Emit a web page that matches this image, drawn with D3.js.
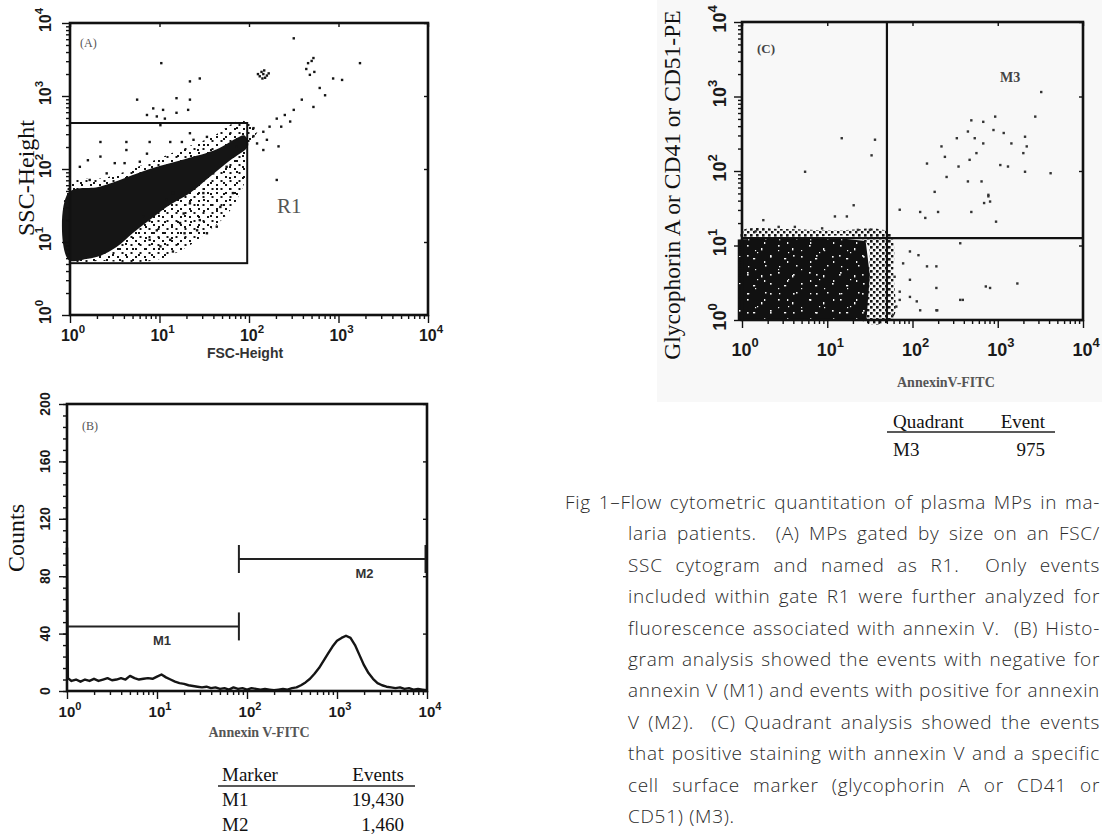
<!DOCTYPE html>
<html><head><meta charset="utf-8">
<script src="https://cdn.jsdelivr.net/npm/d3@7"></script>
<style>body{margin:0;background:#fff}svg{display:block}</style>
</head><body>
<svg id="c" width="1102" height="834"></svg>
<script>
// ---------------- DATA ----------------
const decades = [0, 1, 2, 3, 4];                 // log10 tick exponents
const countTicks = [0, 40, 80, 120, 160, 200];   // panel B y ticks

// Panel A: gate R1 (log10 FSC, log10 SSC)
const gateR1 = {x0: 0, x1: 1.98, y0: 0.71, y1: 2.63};
// dense core outline (log10 FSC, log10 SSC)
const coreA = [[-0.02,0.76],[-0.02,1.67],[0.34,1.76],[0.89,2.0],[1.27,2.13],[1.64,2.27],[1.86,2.42],[1.95,2.46],[1.99,2.32],[1.79,2.12],[1.56,1.89],[1.34,1.67],[1.08,1.48],[0.89,1.3],[0.7,1.12],[0.52,0.93],[0.34,0.81],[0.2,0.77]];
// speckled halo outline
const haloA = [[0.3,0.74],[0.9,0.74],[1.2,0.86],[1.5,1.1],[1.8,1.45],[1.97,1.9],[1.98,2.3],[2.1,2.55],[1.9,2.66],[1.6,2.45],[1.2,2.25],[0.8,2.05],[0.4,1.88],[0,1.8],[0,0.74]];
// sparse events (log10 FSC, log10 SSC)
const sparseA = [[1.02,3.45],[2.50,3.79],[3.24,3.45],[1.34,3.20],[1.45,3.24],[0.75,2.95],[0.93,2.83],[1.04,2.81],[1.19,2.97],[1.34,2.95],[1.32,2.81],[1.19,2.77],[0.97,2.72],[1.06,2.69],[1.01,2.60],[0.86,2.74],
[2.05,2.56],[2.16,2.51],[2.23,2.58],[2.31,2.69],[2.40,2.74],[2.50,2.81],[2.59,2.95],[2.72,2.85],[2.79,3.11],[2.85,3.01],[2.94,3.24],[3.04,3.22],[2.46,2.65],[2.36,2.58],[2.33,2.31],[2.16,2.26],[2.20,2.40],[2.09,2.35],[2.05,2.45],[2.31,1.85],
[2.12,3.27],[2.16,3.30],[2.20,3.28],[2.14,3.33],[2.18,3.25],[2.22,3.31],[2.15,3.24],[2.10,3.30],[2.17,3.35],
[2.72,3.52],[2.66,3.45],[2.64,3.37],[2.68,3.29],[2.73,3.33],[2.70,3.48],
[0.11,2.03],[0.20,2.12],[0.34,2.17],[0.34,2.37],[0.63,2.37],[0.89,2.37],[1.12,2.37],[1.25,2.37],[0.63,2.26],[0.61,2.08],[0.78,2.10],[1.34,2.49],[1.38,2.40],[1.53,2.44],[0.86,2.21],[0.22,1.85],[0.41,1.94],[0.50,2.08],
[1.27,1.39],[1.45,1.30],[1.64,1.21],[1.53,1.12],[1.12,1.03],[1.15,0.87],[0.97,1.16],[0.82,1.35],[1.34,1.53],[1.08,1.58],[1.49,1.67],[1.82,1.67],[1.68,1.48],[1.42,1.16],[1.28,1.12],[1.01,0.94],[0.89,1.03],[1.23,1.26],[1.60,1.94],[1.75,2.03],[1.82,2.17],[1.86,2.31],[1.15,1.67]];

// Panel B: histogram (log10 Annexin V-FITC, counts)
const histLog = [0,0.01,0.05,0.10,0.15,0.20,0.25,0.30,0.35,0.40,0.45,0.50,0.55,0.60,0.65,0.70,0.75,0.80,0.85,0.90,0.95,1.00,1.05,1.10,1.15,1.20,1.25,1.30,1.35,1.40,1.45,1.50,1.55,1.60,1.65,1.70,1.75,1.80,1.85,1.90,1.95,2.00,2.05,2.10,2.15,2.20,2.25,2.30,2.35,2.40,2.45,2.50,2.55,2.60,2.65,2.70,2.75,2.80,2.85,2.90,2.95,3.00,3.05,3.10,3.15,3.20,3.25,3.30,3.35,3.40,3.45,3.50,3.55,3.60,3.65,3.70,3.75,3.80,3.85,3.90,3.95,4.00];
const histCount = [100,9,7,8,6.5,8,7,8.5,7,8,9,7.5,8,9,8,10.5,9,8,8.5,9,8.5,10,11.5,9.5,8,6.5,5.5,5,4,3.5,3,2.5,3,2,2.5,1.5,2,1,2.5,1.5,2,1,2,1.5,1,1.5,1,0.5,1,1.5,1,2,2.5,4,6,8.5,12,16,21,26,31,35,37,38.5,37,32,25,18,12.5,8.5,5.5,4,3,2.5,2,2.5,1.5,2,1,1.5,1,0.5];
// markers: [name, log10 start, log10 end, count level]
const markers = [["M1", 0, 1.91, 45], ["M2", 1.91, 4, 92]];
const tableB = [["Marker", "Events"], ["M1", "19,430"], ["M2", "1,460"]];

// Panel C: quadrant thresholds (log10)
const quadC = {x: 1.70, y: 1.10};
const coreC = [[-0.05,0],[-0.05,1.08],[0.6,1.11],[1.2,1.09],[1.45,1.06],[1.5,0.6],[1.46,0]];
const haloC = [[0,1.05],[0,1.2],[0.5,1.22],[1.1,1.2],[1.6,1.22],[1.75,1.15],[1.78,0.6],[1.76,0],[1.4,0],[1.45,1.05]];
const sparseC = [[2.69,2.68],[2.83,2.66],[2.97,2.73],[2.65,2.53],[2.52,2.44],[2.73,2.44],[2.83,2.37],[2.95,2.55],[2.34,2.33],[2.38,2.19],[2.17,2.10],[2.54,2.06],[2.67,2.15],[2.75,2.24],[2.65,1.86],[2.81,1.86],[2.40,1.92],[2.26,1.72],[2.89,1.68],[2.91,1.59],[2.09,1.45],[2.30,1.45],[2.69,1.45],[1.85,1.48],[2.15,1.37],
[3.51,3.06],[3.44,2.73],[3.32,2.46],[3.34,2.33],[3.30,2.24],[3.32,1.99],[3.62,1.97],[3.12,2.06],[3.03,2.08],[3.16,2.37],[3.07,2.51],[2.98,1.32],[2.84,1.57],[2.89,1.66],
[1.56,2.42],[1.52,2.21],[1.17,2.44],[1.31,1.54],[1.09,1.39],[1.23,1.39],[1.36,1.21],[1.50,1.21],[0.74,1.99],[0.25,1.34],[0.43,1.25],[0.62,1.25],[0.94,1.23],[0.16,1.19],
[1.97,0.92],[2.07,0.87],[1.89,0.76],[2.17,0.72],[2.28,0.72],[1.85,0.38],[1.97,0.31],[2.05,0.25],[2.09,0.13],[2.28,0.13],[1.81,0.18],[1.77,0.07],[1.85,0.27],[2.59,0.27],[2.91,0.43],[2.28,0.43],[1.97,0.54],[1.79,0.58],[2.56,1.03],[2.86,0.45],[3.23,0.49],[2.56,0.27],[2.29,0.13]];
const tableC = [["Quadrant", "Event"], ["M3", "975"]];

const caption = [
 "Fig 1\u2013Flow cytometric quantitation of plasma MPs in ma-",
 "laria patients.  (A) MPs gated by size on an FSC/",
 "SSC cytogram and named as R1.  Only events",
 "included within gate R1 were further analyzed for",
 "fluorescence associated with annexin V.  (B) Histo-",
 "gram analysis showed the events with negative for",
 "annexin V (M1) and events with positive for annexin",
 "V (M2).  (C) Quadrant analysis showed the events",
 "that positive staining with annexin V and a specific",
 "cell surface marker (glycophorin A or CD41 or",
 "CD51) (M3)."];

// ---------------- DRAW ----------------
const svg = d3.select("#c");
const defs = svg.append("defs");
function pat(id, w, h, bg, fg, rects) {
  const p = defs.append("pattern").attr("id", id).attr("width", w).attr("height", h).attr("patternUnits", "userSpaceOnUse");
  if (bg) p.append("rect").attr("width", w).attr("height", h).attr("fill", bg);
  rects.forEach(r => p.append("rect").attr("x", r[0]).attr("y", r[1]).attr("width", r[2]).attr("height", r[3] || r[2]).attr("fill", fg));
}
pat("spk1", 9, 8, null, "#151515", [[0,0,2],[4.5,4,2]]);
pat("spk2", 13, 11, null, "#151515", [[2,6,2],[8,1,2]]);
// irregular white specks inside the dense C cloud
pat("dns", 31, 27, "#111", "#fff", [[3,2,1.6],[17,5,1.4,2.4],[26,13,1.6],[9,15,2.2,1.4],[21,22,1.5],[4,23,1.3],[13,9,1.2]]);
pat("dns2", 23, 19, null, "#f4f4f4", [[11,8,1.6],[5,14,1.3,2],[19,3,1.2]]);
pat("spkC", 6, 6, null, "#151515", [[0,0,2.6],[3,3,2.4]]);

svg.append("rect").attr("x", 657).attr("y", 0).attr("width", 445).attr("height", 402).attr("fill", "#f8f8f8");

const minorVals = [];
[0,1,2,3].forEach(d => { for (let k = 2; k <= 9; k++) minorVals.push(k * Math.pow(10, d)); });
const majorVals = decades.map(e => Math.pow(10, e));
const P = e => Math.pow(10, e);

function clean(g) { g.select(".domain").remove(); g.selectAll(".tick line").attr("stroke", "#111").attr("stroke-width", 1.4); }

function logXAxis(g, x, y0, y1, fs, lblY) {
  g.append("g").attr("transform", `translate(0,${y0})`).call(d3.axisBottom(x).tickValues(minorVals).tickSize(4).tickFormat("")).call(clean);
  g.append("g").attr("transform", `translate(0,${y0})`).call(d3.axisBottom(x).tickValues(majorVals).tickSize(8).tickFormat("")).call(clean);
  g.append("g").attr("transform", `translate(0,${y1})`).call(d3.axisBottom(x).tickValues(majorVals).tickSize(4).tickFormat("")).call(clean);
  decades.forEach(e => {
    const t = g.append("text").attr("x", x(P(e)) + 3).attr("y", lblY).attr("text-anchor", "middle")
      .attr("font-family", "Liberation Sans, Arial, sans-serif").attr("font-weight", "bold").attr("font-size", fs).attr("fill", "#1a1a1a");
    t.append("tspan").text("10");
    t.append("tspan").attr("dy", -fs * 0.5).attr("font-size", fs * 0.72).text(e);
  });
}
function logYAxis(g, y, x0, x1, fs, lblX) {
  g.append("g").attr("transform", `translate(${x0},0)`).call(d3.axisLeft(y).tickValues(minorVals).tickSize(4).tickFormat("")).call(clean);
  g.append("g").attr("transform", `translate(${x0},0)`).call(d3.axisLeft(y).tickValues(majorVals).tickSize(8).tickFormat("")).call(clean);
  g.append("g").attr("transform", `translate(${x1},0)`).call(d3.axisLeft(y).tickValues(majorVals).tickSize(4).tickFormat("")).call(clean);
  decades.forEach(e => {
    const t = g.append("text").attr("transform", `translate(${lblX},${y(P(e)) - 3}) rotate(-90)`).attr("text-anchor", "middle")
      .attr("font-family", "Liberation Sans, Arial, sans-serif").attr("font-weight", "bold").attr("font-size", fs).attr("fill", "#1a1a1a");
    t.append("tspan").text("10");
    t.append("tspan").attr("dy", -fs * 0.5).attr("font-size", fs * 0.72).text(e);
  });
}
function txt(g, x, y, s, o) {
  const t = g.append("text").attr("x", x).attr("y", y).text(s)
    .attr("font-family", o.ff || "Liberation Serif, Times New Roman, serif").attr("font-size", o.fs).attr("fill", o.fill || "#111");
  if (o.fw) t.attr("font-weight", o.fw);
  if (o.anchor) t.attr("text-anchor", o.anchor);
  if (o.rot) t.attr("transform", `rotate(-90,${x},${y})`);
  return t;
}
function dots(g, pts, x, y, s, fill) {
  g.selectAll(null).data(pts).join("rect")
    .attr("x", d => x(P(d[0])) - s / 2).attr("y", d => y(P(d[1])) - s / 2)
    .attr("width", s).attr("height", s).attr("fill", fill || "#151515");
}
function poly(g, pts, x, y, fill) {
  g.append("path").attr("d", d3.line().x(d => x(P(d[0]))).y(d => y(P(d[1]))).curve(d3.curveCatmullRomClosed)(pts)).attr("fill", fill);
}

// ===== Panel A =====
{
  const g = svg.append("g");
  const x = d3.scaleLog().domain([1, 1e4]).range([70, 428]);
  const y = d3.scaleLog().domain([1, 1e4]).range([315, 23]);
  poly(g, haloA, x, y, "url(#spk1)");
  poly(g, haloA, x, y, "url(#spk2)");
  poly(g, coreA, x, y, "#151515");
  dots(g, sparseA, x, y, 2.4);
  g.append("rect").attr("x", x(P(gateR1.x0))).attr("y", y(P(gateR1.y1)))
    .attr("width", x(P(gateR1.x1)) - x(P(gateR1.x0))).attr("height", y(P(gateR1.y0)) - y(P(gateR1.y1)))
    .attr("fill", "none").attr("stroke", "#111").attr("stroke-width", 2);
  g.append("rect").attr("x", 70).attr("y", 23).attr("width", 358).attr("height", 292).attr("fill", "none").attr("stroke", "#111").attr("stroke-width", 2.6);
  logXAxis(g, x, 315, 23, 16, 341);
  logYAxis(g, y, 70, 428, 16, 51);
  txt(g, 80, 47, "(A)", {fs: 12, fill: "#555"});
  txt(g, 277, 213, "R1", {fs: 21, fill: "#555"});
  txt(g, 245, 358, "FSC-Height", {ff: "Liberation Sans Narrow, Liberation Sans, Arial, sans-serif", fs: 14, fw: "bold", anchor: "middle", fill: "#333"});
  txt(g, 34, 178, "SSC-Height", {fs: 24, anchor: "middle", rot: true});
}

// ===== Panel B =====
{
  const g = svg.append("g");
  const x = d3.scaleLog().domain([1, 1e4]).range([67, 427]);
  const y = d3.scaleLinear().domain([0, 200]).range([691, 404]);
  g.append("path").datum(histLog.map((l, i) => [l, histCount[i]]))
    .attr("d", d3.line().x(d => x(P(d[0]))).y(d => y(d[1])))
    .attr("fill", "none").attr("stroke", "#151515").attr("stroke-width", 2.4).attr("stroke-linejoin", "round");
  markers.forEach(m => {
    const xa = x(P(m[1])), xb = x(P(m[2])) - (m[2] === 4 ? 1.5 : 0), yy = y(m[3]);
    g.append("line").attr("x1", xa).attr("x2", xb).attr("y1", yy).attr("y2", yy).attr("stroke", "#222").attr("stroke-width", 2);
    if (m[1] > 0) g.append("line").attr("x1", xa).attr("x2", xa).attr("y1", yy - 14).attr("y2", yy + 14).attr("stroke", "#222").attr("stroke-width", 2);
    g.append("line").attr("x1", xb).attr("x2", xb).attr("y1", yy - 14).attr("y2", yy + 14).attr("stroke", "#222").attr("stroke-width", 2);
    txt(g, x(P((m[1] + m[2]) / 2 + (m[0] === "M2" ? 0.35 : 0.1))), yy + 19, m[0], {ff: "Liberation Sans, Arial, sans-serif", fs: 13, fw: "bold", anchor: "middle", fill: "#333"});
  });
  g.append("rect").attr("x", 67).attr("y", 404).attr("width", 360).attr("height", 287).attr("fill", "none").attr("stroke", "#111").attr("stroke-width", 2.6);
  const minorC = d3.range(0, 201, 8);
  g.append("g").attr("transform", "translate(67,0)").call(d3.axisLeft(y).tickValues(minorC).tickSize(4).tickFormat("")).call(clean);
  g.append("g").attr("transform", "translate(67,0)").call(d3.axisLeft(y).tickValues(countTicks).tickSize(8).tickFormat("")).call(clean);
  g.append("g").attr("transform", "translate(427,0)").call(d3.axisLeft(y).tickValues(countTicks).tickSize(4).tickFormat("")).call(clean);
  countTicks.forEach(c => txt(g, 50, y(c), String(c), {ff: "Liberation Sans Narrow, Liberation Sans, Arial, sans-serif", fs: 14, fw: "bold", anchor: "middle", rot: true, fill: "#1a1a1a"}));
  g.append("g").attr("transform", "translate(0,691)").call(d3.axisBottom(x).tickValues(minorVals).tickSize(4).tickFormat("")).call(clean);
  g.append("g").attr("transform", "translate(0,691)").call(d3.axisBottom(x).tickValues(majorVals).tickSize(8).tickFormat("")).call(clean);
  decades.forEach(e => {
    const t = g.append("text").attr("x", x(P(e)) + 3).attr("y", 717).attr("text-anchor", "middle")
      .attr("font-family", "Liberation Sans, Arial, sans-serif").attr("font-weight", "bold").attr("font-size", 15).attr("fill", "#1a1a1a");
    t.append("tspan").text("10");
    t.append("tspan").attr("dy", -7.5).attr("font-size", 11).text(e);
  });
  txt(g, 82, 430, "(B)", {fs: 12, fill: "#555"});
  txt(g, 259, 737, "Annexin V-FITC", {fs: 14, fw: "bold", anchor: "middle", fill: "#555"});
  txt(g, 24, 538, "Counts", {fs: 24, anchor: "middle", rot: true});
  // table
  txt(g, 222, 781, tableB[0][0], {fs: 19});
  txt(g, 404, 781, tableB[0][1], {fs: 19, anchor: "end"});
  g.append("line").attr("x1", 218).attr("x2", 415).attr("y1", 786).attr("y2", 786).attr("stroke", "#222").attr("stroke-width", 1.3);
  tableB.slice(1).forEach((r, i) => {
    txt(g, 222, 806 + i * 24.5, r[0], {fs: 19});
    txt(g, 404, 806 + i * 24.5, r[1], {fs: 19, anchor: "end"});
  });
}

// ===== Panel C =====
{
  const g = svg.append("g");
  const x = d3.scaleLog().domain([1, 1e4]).range([742, 1083]);
  const y = d3.scaleLog().domain([1, 1e4]).range([320, 22]);
  poly(g, haloC, x, y, "url(#spkC)");
  const cp = d3.line().x(d => x(P(d[0]))).y(d => y(P(d[1])))(coreC) + "Z";
  g.append("path").attr("d", cp).attr("fill", "url(#dns)");
  g.append("path").attr("d", cp).attr("fill", "url(#dns2)");
  dots(g, sparseC, x, y, 2.4, "#333");
  g.append("line").attr("x1", x(P(quadC.x))).attr("x2", x(P(quadC.x))).attr("y1", 22).attr("y2", 320).attr("stroke", "#111").attr("stroke-width", 2.2);
  g.append("line").attr("x1", 742).attr("x2", 1083).attr("y1", y(P(quadC.y))).attr("y2", y(P(quadC.y))).attr("stroke", "#111").attr("stroke-width", 2.2);
  g.append("rect").attr("x", 742).attr("y", 22).attr("width", 341).attr("height", 298).attr("fill", "none").attr("stroke", "#111").attr("stroke-width", 2.6);
  logXAxis(g, x, 320, 22, 18, 356);
  logYAxis(g, y, 742, 1083, 18, 726);
  txt(g, 757, 53, "(C)", {fs: 13, fw: "bold", fill: "#444"});
  txt(g, 1000, 82, "M3", {fs: 14, fw: "bold", fill: "#444"});
  txt(g, 897, 387, "AnnexinV-FITC", {fs: 14, fw: "bold", fill: "#555"});
  txt(g, 680, 185, "Glycophorin A or CD41 or CD51-PE", {fs: 23.5, anchor: "middle", rot: true});
  txt(g, 893, 428, tableC[0][0], {fs: 19});
  txt(g, 1045, 428, tableC[0][1], {fs: 19, anchor: "end"});
  g.append("line").attr("x1", 887).attr("x2", 1055).attr("y1", 432).attr("y2", 432).attr("stroke", "#222").attr("stroke-width", 1.3);
  txt(g, 893, 456, tableC[1][0], {fs: 19});
  txt(g, 1045, 456, tableC[1][1], {fs: 19, anchor: "end"});
}

// ===== Caption (justified) =====
{
  const g = svg.append("g");
  caption.forEach((s, i) => {
    const x0 = i === 0 ? 565 : 628;
    const t = g.append("text").attr("x", x0).attr("y", 509 + i * 31.4).text(s)
      .attr("font-family", "Open Sans, Lato, sans-serif").attr("font-weight", 300).attr("font-size", 19).attr("fill", "#2a2a2a")
      .attr("letter-spacing", 0.7).style("white-space", "pre");
    if (i < caption.length - 1) {
      const target = 1100 - x0;
      const nat = t.node().getComputedTextLength();
      const nsp = (s.match(/ /g) || []).length;
      if (nat < target && nsp) t.attr("word-spacing", (target - nat) / nsp);
      else if (nat > target) t.attr("textLength", target).attr("lengthAdjust", "spacingAndGlyphs");
    }
  });
}
</script>
</body></html>
